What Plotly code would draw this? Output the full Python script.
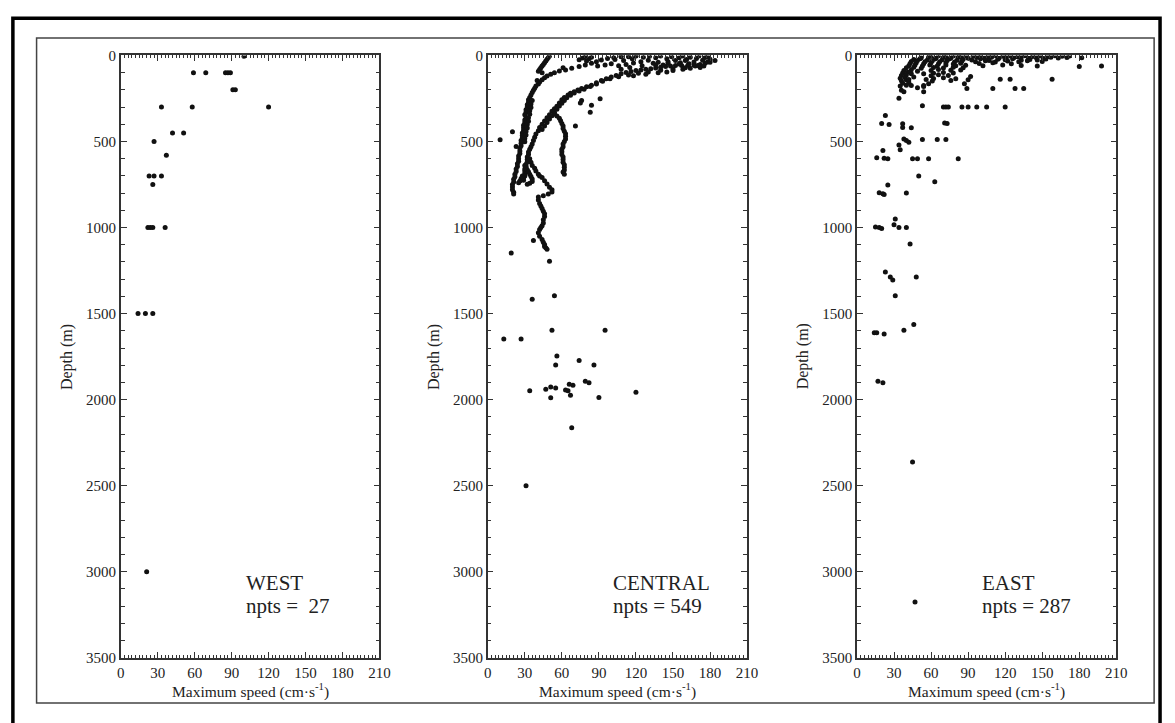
import plotly.graph_objects as go

# ---------------- data (speed cm/s, depth m) ----------------
west_points = [
    (100, 5), (59, 100), (69, 100), (85, 100), (87, 100), (89, 100),
    (91, 200), (93, 200), (33, 300), (58, 300), (120, 300),
    (42, 450), (51, 450), (27, 500), (37, 580),
    (23, 700), (27, 700), (33, 700), (26, 750),
    (22, 1000), (24, 1000), (26, 1000), (36, 1000),
    (14, 1500), (20, 1500), (26, 1500), (21, 3000),
]

central_top_left = [
    (50, 3), (49, 12), (48, 22), (47, 32), (46, 42), (45, 52), (44, 62),
    (43, 72), (42, 82), (41, 92), (44, 100), (61, 72),
]
central_upper_curve = [
    (120, 2), (114, 4), (108, 7), (102, 12), (97, 18), (92, 27), (88, 37),
    (84, 46), (79, 56), (74, 65), (68, 75), (63, 84), (58, 91), (54, 100),
    (51, 110), (48, 120), (46, 130), (44, 142), (42, 154), (41, 166),
    (39, 178), (38, 190), (37, 203), (36, 216), (35, 230), (34, 244),
    (33, 258), (33, 272), (32, 286), (32, 300), (31, 315), (31, 330),
    (30, 345), (31, 360), (30, 375), (30, 390), (29, 405), (29, 420),
    (29, 435), (28, 450), (28, 465), (28, 480), (27, 495), (27, 510),
    (27, 525), (26, 540), (26, 555), (26, 570), (25, 585), (25, 600),
    (25, 615), (24, 630), (24, 645), (23, 660), (23, 675), (22, 690),
    (22, 705), (21, 720), (21, 735), (20, 750), (20, 765), (20, 780),
    (21, 795), (21, 805),
]
central_upper_strand = [
    (36, 262), (35, 282), (35, 302), (34, 322), (34, 342), (33, 362),
    (33, 382), (32, 402), (32, 422), (31, 442), (31, 462), (30, 482),
    (30, 502),
]
central_top_cluster = [
    (74, 25), (77, 15), (79, 6), (82, 20), (84, 10), (80, 32),
]
central_lower_curve = [
    (178, 38), (176, 45), (172, 52), (167, 55), (162, 57), (157, 58),
    (152, 59), (148, 61), (144, 65), (140, 69), (136, 73), (132, 78),
    (128, 81), (124, 84), (120, 87), (116, 93), (112, 99), (108, 106),
    (104, 116), (100, 126), (96, 135), (92, 145), (88, 159), (84, 173),
    (80, 182), (76, 192), (73, 201), (70, 211), (67, 220), (65, 230),
    (62, 244), (60, 258), (58, 277), (56, 296), (54, 310), (52, 325),
    (50, 344), (48, 362), (46, 381), (44, 400), (42, 419), (41, 438),
    (39, 457), (38, 476), (37, 495), (36, 514), (35, 530), (34, 545),
    (33, 561), (33, 575), (32, 590), (32, 605), (32, 618), (31, 632),
    (31, 645), (30, 660), (30, 672), (30, 686), (30, 700), (29, 712),
    (29, 725),
]
central_lower_strand = [
    (160, 72), (150, 78), (140, 86), (130, 96), (122, 104), (114, 114),
    (106, 124), (99, 136), (93, 150), (88, 166), (83, 180), (78, 196),
    (74, 206), (70, 218), (67, 232), (64, 246), (62, 262), (60, 278),
    (58, 294), (56, 312), (54, 330), (52, 350), (50, 370), (48, 390),
    (46, 410), (44, 430),
]
central_right_branch = [
    (54, 340), (56, 352), (58, 365), (59, 380), (60, 395), (61, 410),
    (61, 425), (62, 440), (63, 455), (63, 470), (63, 485), (62, 500),
    (61, 515), (61, 530), (60, 545), (60, 560), (60, 575), (61, 590),
    (61, 605), (61, 620), (62, 635), (62, 650), (62, 665), (61, 678),
    (62, 690),
]
central_tail = [
    (34, 600), (35, 620), (36, 640), (38, 656), (39, 671), (41, 690),
    (42, 700), (44, 709), (46, 728), (48, 747), (50, 766), (52, 780),
    (52, 794), (49, 805), (45, 815), (41, 823), (41, 840), (42, 860),
    (43, 875), (44, 890), (45, 905), (46, 920), (46, 936), (45, 955),
    (45, 974), (44, 990), (43, 1000), (42, 1012), (41, 1031), (42, 1050),
    (44, 1069), (45, 1085), (46, 1098), (46, 1110), (47, 1118), (48, 1126),
]
central_bundle = [
    (30, 640), (31, 652), (32, 664), (33, 676), (34, 690), (35, 704),
    (36, 718), (36, 732), (34, 742), (32, 748), (28, 700), (27, 715),
    (26, 730), (25, 740),
]
central_top_band = [
    (108, 3), (114, 8), (120, 4), (126, 10), (131, 5), (136, 14), (140, 4),
    (145, 20), (149, 8), (152, 30), (155, 14), (158, 4), (161, 24),
    (164, 10), (167, 38), (169, 18), (171, 4), (174, 28), (176, 12),
    (180, 22), (130, 28), (124, 36), (118, 44), (112, 52), (106, 60),
    (138, 40), (146, 46), (156, 42), (163, 48), (168, 62), (172, 70),
    (136, 56), (100, 48), (95, 55), (89, 62), (117, 20), (110, 30),
    (103, 24), (150, 88), (158, 80), (164, 74), (170, 58), (145, 96),
    (138, 100), (128, 110), (118, 118), (175, 62), (160, 30), (146, 36),
    (134, 46), (125, 60), (115, 70), (108, 80), (142, 56), (155, 50),
    (180, 40), (184, 30), (178, 8),
]
central_scattered = [
    (76, 262), (75, 276), (84, 290), (83, 330), (91, 251), (71, 410),
    (40, 145), (10, 490), (20, 444), (23, 529), (37, 1075), (19, 1148),
    (50, 1196), (36, 1417), (54, 1396), (13, 1648), (27, 1648), (52, 1597),
    (95, 1597), (56, 1747), (55, 1798), (74, 1773), (86, 1798), (79, 1893),
    (82, 1902), (34, 1949), (47, 1940), (51, 1926), (55, 1933), (51, 1989),
    (63, 1944), (65, 1949), (66, 1911), (69, 1917), (67, 1974), (90, 1987),
    (120, 1957), (68, 2163), (31, 2500),
]

east_top_band = [
    (60, 4), (66, 2), (72, 6), (78, 3), (84, 8), (88, 2), (94, 5), (100, 3),
    (106, 7), (112, 2), (118, 5), (124, 3), (130, 8), (136, 2), (142, 6),
    (148, 3), (154, 7), (160, 2), (166, 5), (172, 3),
    (52, 14), (58, 10), (64, 16), (70, 11), (76, 15), (82, 10), (90, 17),
    (97, 12), (103, 15), (109, 10), (115, 17), (121, 12), (127, 14), (133, 10),
    (139, 16), (145, 12), (151, 18), (157, 11), (163, 15), (170, 12), (182, 13),
    (46, 24), (51, 20), (57, 27), (63, 21), (69, 25), (75, 19), (81, 28),
    (86, 22), (93, 26), (100, 20), (107, 29), (114, 22), (120, 25), (126, 20),
    (133, 28), (140, 23), (146, 26), (153, 21),
    (44, 35), (49, 30), (55, 37), (61, 31), (67, 36), (73, 30), (79, 38),
    (85, 33), (96, 36), (104, 31), (112, 38), (122, 33), (131, 36), (138, 31),
    (150, 35),
    (43, 47), (48, 42), (54, 49), (60, 43), (66, 48), (72, 42), (78, 50),
    (84, 45), (99, 47), (110, 43), (125, 48),
    (42, 60), (47, 55), (53, 62), (59, 56), (65, 61), (72, 55), (80, 60),
    (88, 57), (102, 60), (118, 56), (133, 59), (146, 62), (180, 65), (198, 62),
    (40, 72), (46, 68), (52, 74), (62, 70), (70, 73), (78, 68), (86, 72),
    (38, 87), (44, 83), (60, 88), (66, 82), (76, 86), (84, 84),
    (37, 102), (41, 98), (62, 104), (70, 99), (78, 102),
    (36, 117), (40, 113), (60, 118), (66, 112), (74, 116),
    (35, 132), (39, 128), (62, 134), (70, 129),
    (36, 147), (40, 143), (61, 148), (76, 145), (116, 139), (124, 139), (158, 139),
    (37, 162), (42, 158), (58, 165),
    (35, 177), (40, 173), (54, 180),
]
east_ring = [
    (56, 140), (54, 106), (49, 92), (44, 106), (42, 140), (44, 174),
    (49, 188), (54, 174), (46, 125),
]
east_scattered = [
    (80, 135), (87, 164), (90, 141), (92, 122), (89, 192), (110, 192),
    (128, 192), (135, 192), (36, 202), (38, 211), (54, 211), (34, 249),
    (53, 292), (70, 300), (72, 300), (74, 300), (85, 300), (90, 300),
    (97, 300), (105, 300), (120, 300),
    (23, 349), (20, 395), (26, 402), (37, 397), (37, 419), (44, 420),
    (71, 392), (73, 395),
    (38, 486), (40, 495), (42, 505), (34, 520), (35, 548), (53, 488),
    (65, 488), (72, 488), (21, 552),
    (16, 595), (22, 598), (25, 600), (45, 600), (49, 600), (58, 600), (82, 600),
    (50, 700), (63, 734), (25, 753), (18, 798), (21, 804), (22, 808), (40, 800),
    (15, 997), (18, 1000), (20, 1006), (31, 951), (30, 984), (34, 1000), (40, 1000),
    (43, 1096), (23, 1258), (27, 1287), (29, 1305), (48, 1287), (31, 1396),
    (46, 1563), (38, 1597), (14, 1612), (16, 1612), (22, 1618),
    (17, 1893), (21, 1902), (45, 2362), (47, 3176),
]

x_ticks = [0, 30, 60, 90, 120, 150, 180, 210]
y_ticks = [0, 500, 1000, 1500, 2000, 2500, 3000, 3500]
panel_names = ["WEST", "CENTRAL", "EAST"]
npts_labels = ["npts =  27", "npts = 549", "npts = 287"]

central_points = (central_top_left + central_upper_curve + central_upper_strand
                  + central_top_cluster + central_lower_curve + central_lower_strand
                  + central_right_branch + central_tail + central_bundle
                  + central_top_band + central_scattered)
east_points = east_top_band + east_ring + east_scattered

# ---------------- figure ----------------
W, H = 1175, 723


def fx(x):  # window pixel -> paper fraction
    return x / W


def fy(y):
    return 1 - y / H


PLOT_TOP, PLOT_BOT = 48.5, 664.5
panels = [(118.3, 380.3), (490.0, 752.7), (864.0, 1126.7)]
FONT = "Liberation Serif"
AX = "#333333"
TXT = "#222222"

fig = go.Figure()
for i, pts in enumerate([west_points, central_points, east_points]):
    sfx = "" if i == 0 else str(i + 1)
    fig.add_trace(go.Scatter(
        x=[p[0] for p in pts], y=[p[1] for p in pts], mode="markers",
        marker=dict(size=5, color="#111111", line=dict(width=0)),
        xaxis="x" + sfx, yaxis="y" + sfx, showlegend=False, hoverinfo="skip"))

layout = dict(
    width=W, height=H, margin=dict(l=0, r=0, t=0, b=0),
    paper_bgcolor="white", plot_bgcolor="white", showlegend=False,
    font=dict(family=FONT, color=TXT),
)
annotations = []
for i, (x0, x1) in enumerate(panels):
    sfx = "" if i == 0 else str(i + 1)
    layout["xaxis" + sfx] = dict(
        domain=[fx(x0), fx(x1)], anchor="y" + sfx, range=[0, 210],
        tickmode="array", tickvals=x_ticks, ticks="inside", ticklen=6, tickwidth=1.2,
        tickcolor=AX, showline=True, linecolor=AX, linewidth=1.5, mirror="allticks",
        showgrid=False, zeroline=False,
        minor=dict(ticks="inside", dtick=3, tick0=0, ticklen=3, tickwidth=1, tickcolor=AX, showgrid=False),
        tickfont=dict(family=FONT, size=15, color=TXT),
    )
    layout["yaxis" + sfx] = dict(
        domain=[fy(PLOT_BOT), fy(PLOT_TOP)], anchor="x" + sfx, range=[3500, 0],
        tickmode="array", tickvals=y_ticks, ticks="inside", ticklen=6, tickwidth=1.2,
        tickcolor=AX, showline=True, linecolor=AX, linewidth=1.5, mirror="allticks",
        showgrid=False, zeroline=False,
        minor=dict(ticks="inside", dtick=100, tick0=0, ticklen=4, tickwidth=1, tickcolor=AX, showgrid=False),
        tickfont=dict(family=FONT, size=15, color=TXT),
    )
    annotations.append(dict(
        xref="paper", yref="paper", x=fx((x0 + x1) / 2), y=fy(697.5),
        text="Maximum speed (cm·s<sup>-1</sup>)", showarrow=False,
        xanchor="center", yanchor="middle", font=dict(family=FONT, size=15.5, color=TXT)))
    annotations.append(dict(
        xref="paper", yref="paper", x=fx(x0 - 55), y=fy((PLOT_TOP + PLOT_BOT) / 2),
        text="Depth (m)", showarrow=False, textangle=-90,
        xanchor="center", yanchor="middle", font=dict(family=FONT, size=16, color=TXT)))
    annotations.append(dict(
        xref="x" + sfx, yref="y" + sfx, x=100, y=3067, text=panel_names[i],
        showarrow=False, xanchor="left", yanchor="middle",
        font=dict(family=FONT, size=21, color=TXT)))
    annotations.append(dict(
        xref="x" + sfx, yref="y" + sfx, x=100, y=3200, text=npts_labels[i],
        showarrow=False, xanchor="left", yanchor="middle",
        font=dict(family=FONT, size=21, color=TXT)))
layout["annotations"] = annotations
layout["shapes"] = [
    dict(type="rect", xref="paper", yref="paper", x0=fx(9), x1=fx(1171), y0=fy(760), y1=fy(10.5),
         line=dict(color="black", width=3.5), fillcolor="rgba(0,0,0,0)"),
    dict(type="rect", xref="paper", yref="paper", x0=fx(33), x1=fx(1165), y0=fy(710.7), y1=fy(30.7),
         line=dict(color="#444444", width=1.5), fillcolor="rgba(0,0,0,0)"),
]
fig.update_layout(**layout)
fig.write_html(
    "out.html",
    config={"displayModeBar": False},
    post_script="document.body.style.margin='0';document.body.style.padding='0';document.body.style.overflow='hidden';",
)
